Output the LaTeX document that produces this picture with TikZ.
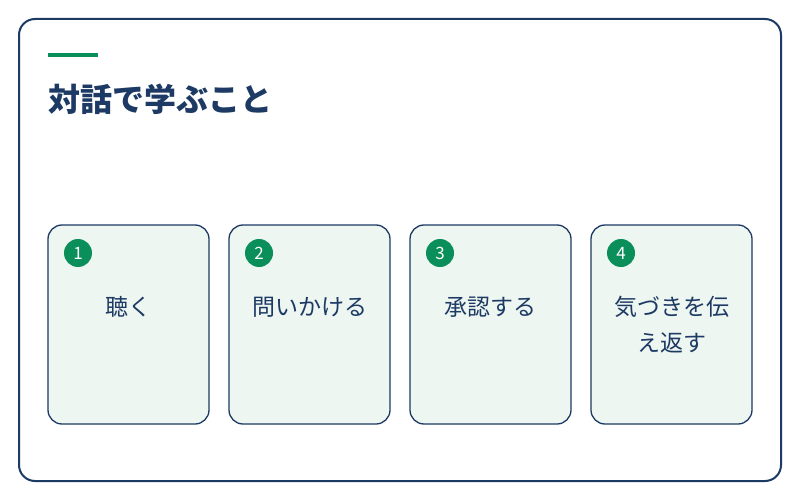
\documentclass[tikz,border=0pt]{standalone}
\usepackage{fontspec}
\setmainfont{Noto Sans CJK JP}
\definecolor{navy}{HTML}{1C3A63}
\definecolor{grn}{HTML}{0A8F5A}
\definecolor{cardbg}{HTML}{EEF6F1}
\begin{document}
\begin{tikzpicture}[x=1pt,y=-1pt,
 card/.style={draw=navy,line width=1.3pt,fill=cardbg,rounded corners=14pt},
 num/.style={circle,fill=grn,minimum size=28pt,inner sep=0pt,text=white,font=\fontsize{17}{17}\selectfont},
 lbl/.style={text=navy,font=\fontsize{23}{36}\selectfont,align=center}]
\useasboundingbox (0,0) rectangle (800,500);
\draw[draw=navy,line width=2pt,fill=white,rounded corners=16pt] (19,19) rectangle (781,481);
\fill[grn] (48,53) rectangle (98,57);
\node[anchor=base west,text=navy,font=\bfseries\fontsize{32}{32}\selectfont,inner sep=0pt] (title) at (48,112) {対話で学ぶこと};
\foreach \i/\x in {1/48,2/229,3/410,4/591}{
  \draw[card] (\x,225) rectangle ++(161,199);
  \node[num] (n\i) at (\x+30,253) {\i};
}
\node[lbl] (t1) at (128.5,307) {聴く};
\node[lbl] (t2) at (309.5,307) {問いかける};
\node[lbl] (t3) at (490.5,307) {承認する};
\node[lbl] (t4) at (671.5,325) {気づきを伝\\え返す};
\end{tikzpicture}
\end{document}
